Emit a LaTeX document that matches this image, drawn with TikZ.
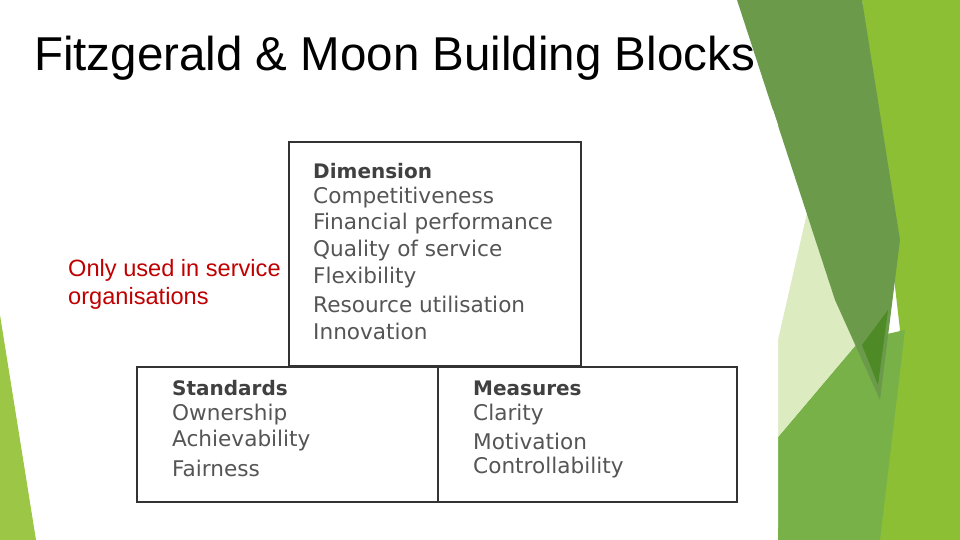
\documentclass[tikz,border=0pt]{standalone}
\usepackage{fontspec}
\setmainfont{Liberation Sans}
\newfontfamily\boxfont{DejaVu Sans}
\definecolor{dkg}{HTML}{6B9B4A}
\definecolor{brg}{HTML}{8DBF35}
\definecolor{mdg}{HTML}{78B148}
\definecolor{plg}{HTML}{DCEBC0}
\definecolor{drk}{HTML}{4E8A25}
\definecolor{lfg}{HTML}{9CC646}
\definecolor{txg}{HTML}{555555}
\definecolor{rd}{HTML}{C00000}
\tikzset{blk/.style={draw=black!80,line width=2.2pt,fill=white},
 itm/.style={font=\boxfont\fontsize{21.6}{20}\selectfont,text=txg,anchor=west,inner sep=0pt},
 hdr/.style={itm,font=\boxfont\bfseries\fontsize{20}{20}\selectfont,text=black!75}}
\begin{document}
\begin{tikzpicture}[x=1pt,y=-1pt]
\useasboundingbox (0,0) rectangle (960,540);
\fill[white] (0,0) rectangle (960,540);
\fill[brg] (862,0)--(960,0)--(960,540)--(780,540)--(900,330)--cycle;
\fill[mdg] (778,437)--(860,340)--(905,330)--(880,540)--(778,540)--cycle;
\fill[plg] (778,340)--(810,200)--(860,340)--(778,437)--cycle;
\fill[dkg] (737,0)--(862,0)--(900,240)--(880,400)--(835,300)--cycle;
\fill[drk] (862,345)--(888,310)--(878,385)--cycle;
\fill[white] (40,110)--(773,110)--(778,125)--(778,528)--(40,528)--cycle;
\fill[lfg] (0,315)--(36,540)--(0,540)--cycle;
\node[anchor=west,inner sep=0pt,font=\fontsize{47.5}{47}\selectfont] (title) at (34,58) {Fitzgerald \& Moon Building Blocks};
\node[anchor=north west,inner sep=0pt,align=left,text=rd,font=\fontsize{23.6}{28}\selectfont] (note) at (68,259) {Only used in service\\organisations};
\node[blk,minimum width=292,minimum height=224,anchor=north west,inner sep=0pt] (dim) at (288,141) {};
\node[blk,minimum width=301,minimum height=135,anchor=north west,inner sep=0pt] (std) at (136,366) {};
\node[blk,minimum width=299,minimum height=135,anchor=north west,inner sep=0pt] (mea) at (437,366) {};
\node[hdr] (d0) at (313,171) {Dimension};
\node[itm] (d1) at (313,198) {Competitiveness};
\node[itm] (d2) at (313,224) {Financial performance};
\node[itm] (d3) at (313,251) {Quality of service};
\node[itm] (d4) at (313,278) {Flexibility};
\node[itm] (d5) at (313,304) {Resource utilisation};
\node[itm] (d6) at (313,331) {Innovation};
\node[hdr] (s0) at (172,388) {Standards};
\node[itm] (s1) at (172,415) {Ownership};
\node[itm] (s2) at (172,441) {Achievability};
\node[itm] (s3) at (172,468) {Fairness};
\node[hdr] (m0) at (473,388) {Measures};
\node[itm] (m1) at (473,415) {Clarity};
\node[itm] (m2) at (473,441) {Motivation};
\node[itm] (m3) at (473,468) {Controllability};
\end{tikzpicture}
\end{document}
